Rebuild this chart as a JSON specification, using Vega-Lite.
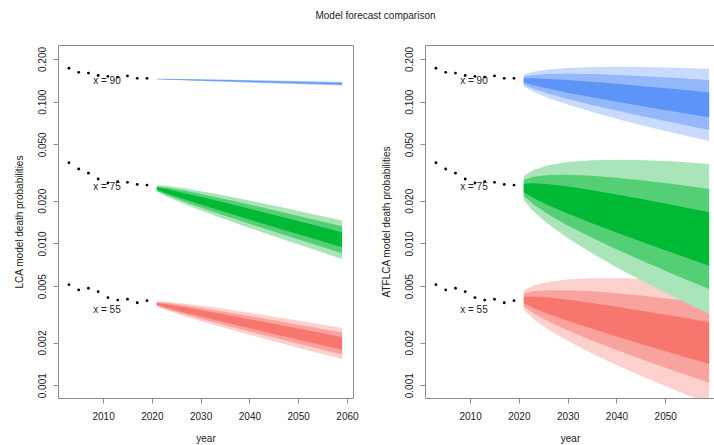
{
  "$schema": "https://vega.github.io/schema/vega-lite/v6.json",
  "padding": {"left": 13, "top": 10, "right": 0, "bottom": 0},
  "title": {"text": "Model forecast comparison", "fontSize": 10, "fontWeight": "normal", "color": "#222", "anchor": "middle", "offset": 24, "dx": 11, "font": "Liberation Sans"},
  "datasets": {
    "lca": [
      {"year": 2021, "age": 90, "lo95": 0.1438, "lo80": 0.1441, "lo50": 0.1443, "hi50": 0.1448, "hi80": 0.1450, "hi95": 0.1453},
      {"year": 2023, "age": 90, "lo95": 0.1427, "lo80": 0.1432, "lo50": 0.1436, "hi50": 0.1444, "hi80": 0.1448, "hi95": 0.1453},
      {"year": 2027, "age": 90, "lo95": 0.1409, "lo80": 0.1416, "lo50": 0.1422, "hi50": 0.1435, "hi80": 0.1441, "hi95": 0.1448},
      {"year": 2033, "age": 90, "lo95": 0.1385, "lo80": 0.1394, "lo50": 0.1403, "hi50": 0.1420, "hi80": 0.1428, "hi95": 0.1438},
      {"year": 2040, "age": 90, "lo95": 0.1360, "lo80": 0.1371, "lo50": 0.1381, "hi50": 0.1402, "hi80": 0.1412, "hi95": 0.1424},
      {"year": 2049, "age": 90, "lo95": 0.1328, "lo80": 0.1342, "lo50": 0.1354, "hi50": 0.1379, "hi80": 0.1391, "hi95": 0.1405},
      {"year": 2059, "age": 90, "lo95": 0.1297, "lo80": 0.1312, "lo50": 0.1325, "hi50": 0.1353, "hi80": 0.1367, "hi95": 0.1383},
      {"year": 2021, "age": 75, "lo95": 0.02323, "lo80": 0.02358, "lo50": 0.02395, "hi50": 0.02490, "hi80": 0.02529, "hi95": 0.02567},
      {"year": 2023, "age": 75, "lo95": 0.02145, "lo80": 0.02200, "lo50": 0.02259, "hi50": 0.02418, "hi80": 0.02483, "hi95": 0.02548},
      {"year": 2027, "age": 75, "lo95": 0.01877, "lo80": 0.01951, "lo50": 0.02033, "hi50": 0.02254, "hi80": 0.02349, "hi95": 0.02443},
      {"year": 2033, "age": 75, "lo95": 0.01569, "lo80": 0.01654, "lo50": 0.01749, "hi50": 0.02014, "hi80": 0.02130, "hi95": 0.02246},
      {"year": 2040, "age": 75, "lo95": 0.01288, "lo80": 0.01376, "lo50": 0.01475, "hi50": 0.01756, "hi80": 0.01882, "hi95": 0.02011},
      {"year": 2049, "age": 75, "lo95": 0.01011, "lo80": 0.01095, "lo50": 0.01190, "hi50": 0.01469, "hi80": 0.01596, "hi95": 0.01728},
      {"year": 2059, "age": 75, "lo95": 0.00778, "lo80": 0.00853, "lo50": 0.00940, "hi50": 0.01200, "hi80": 0.01321, "hi95": 0.01449},
      {"year": 2021, "age": 55, "lo95": 0.003596, "lo80": 0.003638, "lo50": 0.003681, "hi50": 0.003805, "hi80": 0.003851, "hi95": 0.003896},
      {"year": 2023, "age": 55, "lo95": 0.003376, "lo80": 0.003445, "lo50": 0.003516, "hi50": 0.003724, "hi80": 0.003800, "hi95": 0.003879},
      {"year": 2027, "age": 55, "lo95": 0.003041, "lo80": 0.003138, "lo50": 0.003237, "hi50": 0.003535, "hi80": 0.003646, "hi95": 0.003762},
      {"year": 2033, "age": 55, "lo95": 0.002645, "lo80": 0.002760, "lo50": 0.002880, "hi50": 0.003246, "hi80": 0.003387, "hi95": 0.003534},
      {"year": 2040, "age": 55, "lo95": 0.002269, "lo80": 0.002392, "lo50": 0.002522, "hi50": 0.002925, "hi80": 0.003083, "hi95": 0.003250},
      {"year": 2049, "age": 55, "lo95": 0.001879, "lo80": 0.002003, "lo50": 0.002134, "hi50": 0.002551, "hi80": 0.002719, "hi95": 0.002897},
      {"year": 2059, "age": 55, "lo95": 0.001534, "lo80": 0.001651, "lo50": 0.001777, "hi50": 0.002186, "hi80": 0.002353, "hi95": 0.002533}
    ],
    "atf": [
      {"year": 2021, "age": 90, "lo95": 0.1283, "lo80": 0.1321, "lo50": 0.1364, "hi50": 0.1456, "hi80": 0.1504, "hi95": 0.1548},
      {"year": 2023, "age": 90, "lo95": 0.1173, "lo80": 0.1233, "lo50": 0.1305, "hi50": 0.1460, "hi80": 0.1544, "hi95": 0.1624},
      {"year": 2026, "age": 90, "lo95": 0.1063, "lo80": 0.1142, "lo50": 0.1236, "hi50": 0.1448, "hi80": 0.1568, "hi95": 0.1684},
      {"year": 2030, "age": 90, "lo95": 0.0954, "lo80": 0.1045, "lo50": 0.1158, "hi50": 0.1422, "hi80": 0.1575, "hi95": 0.1727},
      {"year": 2035, "age": 90, "lo95": 0.0846, "lo80": 0.0947, "lo50": 0.1074, "hi50": 0.1381, "hi80": 0.1566, "hi95": 0.1753},
      {"year": 2040, "age": 90, "lo95": 0.0759, "lo80": 0.0865, "lo50": 0.1000, "hi50": 0.1337, "hi80": 0.1545, "hi95": 0.1760},
      {"year": 2046, "age": 90, "lo95": 0.0672, "lo80": 0.0780, "lo50": 0.0920, "hi50": 0.1281, "hi80": 0.1511, "hi95": 0.1754},
      {"year": 2052, "age": 90, "lo95": 0.0600, "lo80": 0.0707, "lo50": 0.0849, "hi50": 0.1226, "hi80": 0.1473, "hi95": 0.1737},
      {"year": 2059, "age": 90, "lo95": 0.0527, "lo80": 0.0632, "lo50": 0.0775, "hi50": 0.1161, "hi80": 0.1422, "hi95": 0.1706},
      {"year": 2021, "age": 75, "lo95": 0.02026, "lo80": 0.02162, "lo50": 0.02297, "hi50": 0.02639, "hi80": 0.02804, "hi95": 0.02991},
      {"year": 2023, "age": 75, "lo95": 0.01682, "lo80": 0.01882, "lo50": 0.02091, "hi50": 0.02658, "hi80": 0.02953, "hi95": 0.03303},
      {"year": 2026, "age": 75, "lo95": 0.01370, "lo80": 0.01605, "lo50": 0.01863, "hi50": 0.02617, "hi80": 0.03037, "hi95": 0.03560},
      {"year": 2030, "age": 75, "lo95": 0.01092, "lo80": 0.01341, "lo50": 0.01626, "hi50": 0.02519, "hi80": 0.03053, "hi95": 0.03748},
      {"year": 2035, "age": 75, "lo95": 0.008528, "lo80": 0.01096, "lo50": 0.01387, "hi50": 0.02374, "hi80": 0.03004, "hi95": 0.03862},
      {"year": 2040, "age": 75, "lo95": 0.006801, "lo80": 0.009094, "lo50": 0.01193, "hi50": 0.02218, "hi80": 0.02911, "hi95": 0.03892},
      {"year": 2046, "age": 75, "lo95": 0.005284, "lo80": 0.007357, "lo50": 0.01003, "hi50": 0.02033, "hi80": 0.02771, "hi95": 0.03858},
      {"year": 2052, "age": 75, "lo95": 0.004155, "lo80": 0.005999, "lo50": 0.008465, "hi50": 0.01854, "hi80": 0.02617, "hi95": 0.03778},
      {"year": 2059, "age": 75, "lo95": 0.003181, "lo80": 0.004771, "lo50": 0.006976, "hi50": 0.01658, "hi80": 0.02425, "hi95": 0.03636},
      {"year": 2021, "age": 55, "lo95": 0.003413, "lo80": 0.003604, "lo50": 0.003783, "hi50": 0.004216, "hi80": 0.004426, "hi95": 0.004674},
      {"year": 2023, "age": 55, "lo95": 0.002931, "lo80": 0.003222, "lo50": 0.003505, "hi50": 0.004228, "hi80": 0.004599, "hi95": 0.005054},
      {"year": 2026, "age": 55, "lo95": 0.002477, "lo80": 0.002831, "lo50": 0.003190, "hi50": 0.004158, "hi80": 0.004685, "hi95": 0.005354},
      {"year": 2030, "age": 55, "lo95": 0.002056, "lo80": 0.002443, "lo50": 0.002850, "hi50": 0.004014, "hi80": 0.004682, "hi95": 0.005563},
      {"year": 2035, "age": 55, "lo95": 0.001676, "lo80": 0.002070, "lo50": 0.002500, "hi50": 0.003803, "hi80": 0.004593, "hi95": 0.005673},
      {"year": 2040, "age": 55, "lo95": 0.001391, "lo80": 0.001775, "lo50": 0.002207, "hi50": 0.003583, "hi80": 0.004455, "hi95": 0.005685},
      {"year": 2046, "age": 55, "lo95": 0.001128, "lo80": 0.001490, "lo50": 0.001909, "hi50": 0.003318, "hi80": 0.004252, "hi95": 0.005614},
      {"year": 2052, "age": 55, "lo95": 0.000925, "lo80": 0.001259, "lo50": 0.001658, "hi50": 0.003062, "hi80": 0.004033, "hi95": 0.005492},
      {"year": 2059, "age": 55, "lo95": 0.000741, "lo80": 0.001042, "lo50": 0.001411, "hi50": 0.002778, "hi80": 0.003764, "hi95": 0.005292}
    ],
    "obs": [
      {"year": 2003, "age": 90, "value": 0.172}, {"year": 2005, "age": 90, "value": 0.161}, {"year": 2007, "age": 90, "value": 0.159},
      {"year": 2009, "age": 90, "value": 0.153}, {"year": 2011, "age": 90, "value": 0.151}, {"year": 2013, "age": 90, "value": 0.149},
      {"year": 2015, "age": 90, "value": 0.152}, {"year": 2017, "age": 90, "value": 0.146}, {"year": 2019, "age": 90, "value": 0.146},
      {"year": 2003, "age": 75, "value": 0.0371}, {"year": 2005, "age": 75, "value": 0.0335}, {"year": 2007, "age": 75, "value": 0.0313},
      {"year": 2009, "age": 75, "value": 0.0285}, {"year": 2011, "age": 75, "value": 0.0267}, {"year": 2013, "age": 75, "value": 0.0273},
      {"year": 2015, "age": 75, "value": 0.0270}, {"year": 2017, "age": 75, "value": 0.0261}, {"year": 2019, "age": 75, "value": 0.0258},
      {"year": 2003, "age": 55, "value": 0.00512}, {"year": 2005, "age": 55, "value": 0.00470}, {"year": 2007, "age": 55, "value": 0.00483},
      {"year": 2009, "age": 55, "value": 0.00457}, {"year": 2011, "age": 55, "value": 0.00415}, {"year": 2013, "age": 55, "value": 0.00399},
      {"year": 2015, "age": 55, "value": 0.00404}, {"year": 2017, "age": 55, "value": 0.00382}, {"year": 2019, "age": 55, "value": 0.00395}
    ],
    "lab": [
      {"year": 2010.8, "value": 0.1406, "label": "x = 90"},
      {"year": 2010.8, "value": 0.0249, "label": "x = 75"},
      {"year": 2010.8, "value": 0.0034, "label": "x = 55"}
    ]
  },
  "config": {
    "font": "Liberation Sans",
    "view": {"stroke": "#8c8c8c", "strokeWidth": 1},
    "axis": {"grid": false, "domain": false, "tickColor": "#8c8c8c", "tickSize": 5, "labelFontSize": 10, "labelColor": "#222", "titleFontSize": 10, "titleColor": "#222", "titleFontWeight": "normal", "labelFont": "Liberation Sans", "titleFont": "Liberation Sans"},
    "axisX": {"labelPadding": 8, "titlePadding": 12},
    "axisY": {"labelAngle": 270, "labelAlign": "center", "labelBaseline": "bottom", "labelPadding": 6, "titlePadding": 13}
  },
  "bounds": "flush",
  "spacing": 72,
  "hconcat": [
    {
      "width": 295, "height": 353,
      "encoding": {"x": {"field": "year", "type": "quantitative", "scale": {"domain": [2000.76, 2061.24], "nice": false, "zero": false}, "axis": {"title": "year", "values": [2010, 2020, 2030, 2040, 2050, 2060], "format": "d"}}},
      "layer": [
        {"data": {"name": "lca"}, "transform": [{"filter": "datum.age == 55"}], "mark": {"type": "area", "color": "#FBD0CD", "clip": true}, "encoding": {"y": {"field": "lo95", "type": "quantitative", "scale": {"type": "log", "domain": [0.000813, 0.251], "nice": false}, "axis": {"title": "LCA model death probabilities", "values": [0.001, 0.002, 0.005, 0.01, 0.02, 0.05, 0.1, 0.2], "format": ".3f"}}, "y2": {"field": "hi95"}}},
        {"data": {"name": "lca"}, "transform": [{"filter": "datum.age == 55"}], "mark": {"type": "area", "color": "#F8A39E", "clip": true}, "encoding": {"y": {"field": "lo80", "type": "quantitative", "scale": {"type": "log", "domain": [0.000813, 0.251], "nice": false}, "axis": {"title": "LCA model death probabilities", "values": [0.001, 0.002, 0.005, 0.01, 0.02, 0.05, 0.1, 0.2], "format": ".3f"}}, "y2": {"field": "hi80"}}},
        {"data": {"name": "lca"}, "transform": [{"filter": "datum.age == 55"}], "mark": {"type": "area", "color": "#F7766E", "clip": true}, "encoding": {"y": {"field": "lo50", "type": "quantitative", "scale": {"type": "log", "domain": [0.000813, 0.251], "nice": false}, "axis": {"title": "LCA model death probabilities", "values": [0.001, 0.002, 0.005, 0.01, 0.02, 0.05, 0.1, 0.2], "format": ".3f"}}, "y2": {"field": "hi50"}}},
        {"data": {"name": "lca"}, "transform": [{"filter": "datum.age == 75"}], "mark": {"type": "area", "color": "#A9E5B9", "clip": true}, "encoding": {"y": {"field": "lo95", "type": "quantitative", "scale": {"type": "log", "domain": [0.000813, 0.251], "nice": false}, "axis": {"title": "LCA model death probabilities", "values": [0.001, 0.002, 0.005, 0.01, 0.02, 0.05, 0.1, 0.2], "format": ".3f"}}, "y2": {"field": "hi95"}}},
        {"data": {"name": "lca"}, "transform": [{"filter": "datum.age == 75"}], "mark": {"type": "area", "color": "#55CF75", "clip": true}, "encoding": {"y": {"field": "lo80", "type": "quantitative", "scale": {"type": "log", "domain": [0.000813, 0.251], "nice": false}, "axis": {"title": "LCA model death probabilities", "values": [0.001, 0.002, 0.005, 0.01, 0.02, 0.05, 0.1, 0.2], "format": ".3f"}}, "y2": {"field": "hi80"}}},
        {"data": {"name": "lca"}, "transform": [{"filter": "datum.age == 75"}], "mark": {"type": "area", "color": "#00B934", "clip": true}, "encoding": {"y": {"field": "lo50", "type": "quantitative", "scale": {"type": "log", "domain": [0.000813, 0.251], "nice": false}, "axis": {"title": "LCA model death probabilities", "values": [0.001, 0.002, 0.005, 0.01, 0.02, 0.05, 0.1, 0.2], "format": ".3f"}}, "y2": {"field": "hi50"}}},
        {"data": {"name": "lca"}, "transform": [{"filter": "datum.age == 90"}], "mark": {"type": "area", "color": "#C9DBFC", "clip": true}, "encoding": {"y": {"field": "lo95", "type": "quantitative", "scale": {"type": "log", "domain": [0.000813, 0.251], "nice": false}, "axis": {"title": "LCA model death probabilities", "values": [0.001, 0.002, 0.005, 0.01, 0.02, 0.05, 0.1, 0.2], "format": ".3f"}}, "y2": {"field": "hi95"}}},
        {"data": {"name": "lca"}, "transform": [{"filter": "datum.age == 90"}], "mark": {"type": "area", "color": "#94B8FA", "clip": true}, "encoding": {"y": {"field": "lo80", "type": "quantitative", "scale": {"type": "log", "domain": [0.000813, 0.251], "nice": false}, "axis": {"title": "LCA model death probabilities", "values": [0.001, 0.002, 0.005, 0.01, 0.02, 0.05, 0.1, 0.2], "format": ".3f"}}, "y2": {"field": "hi80"}}},
        {"data": {"name": "lca"}, "transform": [{"filter": "datum.age == 90"}], "mark": {"type": "area", "color": "#5C95F7", "clip": true}, "encoding": {"y": {"field": "lo50", "type": "quantitative", "scale": {"type": "log", "domain": [0.000813, 0.251], "nice": false}, "axis": {"title": "LCA model death probabilities", "values": [0.001, 0.002, 0.005, 0.01, 0.02, 0.05, 0.1, 0.2], "format": ".3f"}}, "y2": {"field": "hi50"}}},
        {"data": {"name": "obs"}, "mark": {"type": "circle", "size": 8, "color": "#000", "opacity": 1}, "encoding": {"y": {"field": "value", "type": "quantitative", "scale": {"type": "log", "domain": [0.000813, 0.251], "nice": false}, "axis": {"title": "LCA model death probabilities", "values": [0.001, 0.002, 0.005, 0.01, 0.02, 0.05, 0.1, 0.2], "format": ".3f"}}}},
        {"data": {"name": "lab"}, "mark": {"type": "text", "fontSize": 10, "color": "#222", "font": "Liberation Sans"}, "encoding": {"y": {"field": "value", "type": "quantitative", "scale": {"type": "log", "domain": [0.000813, 0.251], "nice": false}, "axis": {"title": "LCA model death probabilities", "values": [0.001, 0.002, 0.005, 0.01, 0.02, 0.05, 0.1, 0.2], "format": ".3f"}}, "text": {"field": "label"}}}
      ]
    },
    {
      "width": 290, "height": 353,
      "encoding": {"x": {"field": "year", "type": "quantitative", "scale": {"domain": [2000.76, 2060.2], "nice": false, "zero": false}, "axis": {"title": "year", "values": [2010, 2020, 2030, 2040, 2050], "format": "d"}}},
      "layer": [
        {"data": {"name": "atf"}, "transform": [{"filter": "datum.age == 55"}], "mark": {"type": "area", "color": "#FBD0CD", "clip": true}, "encoding": {"y": {"field": "lo95", "type": "quantitative", "scale": {"type": "log", "domain": [0.000813, 0.251], "nice": false}, "axis": {"title": "ATFLCA model death probabilities", "values": [0.001, 0.002, 0.005, 0.01, 0.02, 0.05, 0.1, 0.2], "format": ".3f"}}, "y2": {"field": "hi95"}}},
        {"data": {"name": "atf"}, "transform": [{"filter": "datum.age == 55"}], "mark": {"type": "area", "color": "#F8A39E", "clip": true}, "encoding": {"y": {"field": "lo80", "type": "quantitative", "scale": {"type": "log", "domain": [0.000813, 0.251], "nice": false}, "axis": {"title": "ATFLCA model death probabilities", "values": [0.001, 0.002, 0.005, 0.01, 0.02, 0.05, 0.1, 0.2], "format": ".3f"}}, "y2": {"field": "hi80"}}},
        {"data": {"name": "atf"}, "transform": [{"filter": "datum.age == 55"}], "mark": {"type": "area", "color": "#F7766E", "clip": true}, "encoding": {"y": {"field": "lo50", "type": "quantitative", "scale": {"type": "log", "domain": [0.000813, 0.251], "nice": false}, "axis": {"title": "ATFLCA model death probabilities", "values": [0.001, 0.002, 0.005, 0.01, 0.02, 0.05, 0.1, 0.2], "format": ".3f"}}, "y2": {"field": "hi50"}}},
        {"data": {"name": "atf"}, "transform": [{"filter": "datum.age == 75"}], "mark": {"type": "area", "color": "#A9E5B9", "clip": true}, "encoding": {"y": {"field": "lo95", "type": "quantitative", "scale": {"type": "log", "domain": [0.000813, 0.251], "nice": false}, "axis": {"title": "ATFLCA model death probabilities", "values": [0.001, 0.002, 0.005, 0.01, 0.02, 0.05, 0.1, 0.2], "format": ".3f"}}, "y2": {"field": "hi95"}}},
        {"data": {"name": "atf"}, "transform": [{"filter": "datum.age == 75"}], "mark": {"type": "area", "color": "#55CF75", "clip": true}, "encoding": {"y": {"field": "lo80", "type": "quantitative", "scale": {"type": "log", "domain": [0.000813, 0.251], "nice": false}, "axis": {"title": "ATFLCA model death probabilities", "values": [0.001, 0.002, 0.005, 0.01, 0.02, 0.05, 0.1, 0.2], "format": ".3f"}}, "y2": {"field": "hi80"}}},
        {"data": {"name": "atf"}, "transform": [{"filter": "datum.age == 75"}], "mark": {"type": "area", "color": "#00B934", "clip": true}, "encoding": {"y": {"field": "lo50", "type": "quantitative", "scale": {"type": "log", "domain": [0.000813, 0.251], "nice": false}, "axis": {"title": "ATFLCA model death probabilities", "values": [0.001, 0.002, 0.005, 0.01, 0.02, 0.05, 0.1, 0.2], "format": ".3f"}}, "y2": {"field": "hi50"}}},
        {"data": {"name": "atf"}, "transform": [{"filter": "datum.age == 90"}], "mark": {"type": "area", "color": "#C9DBFC", "clip": true}, "encoding": {"y": {"field": "lo95", "type": "quantitative", "scale": {"type": "log", "domain": [0.000813, 0.251], "nice": false}, "axis": {"title": "ATFLCA model death probabilities", "values": [0.001, 0.002, 0.005, 0.01, 0.02, 0.05, 0.1, 0.2], "format": ".3f"}}, "y2": {"field": "hi95"}}},
        {"data": {"name": "atf"}, "transform": [{"filter": "datum.age == 90"}], "mark": {"type": "area", "color": "#94B8FA", "clip": true}, "encoding": {"y": {"field": "lo80", "type": "quantitative", "scale": {"type": "log", "domain": [0.000813, 0.251], "nice": false}, "axis": {"title": "ATFLCA model death probabilities", "values": [0.001, 0.002, 0.005, 0.01, 0.02, 0.05, 0.1, 0.2], "format": ".3f"}}, "y2": {"field": "hi80"}}},
        {"data": {"name": "atf"}, "transform": [{"filter": "datum.age == 90"}], "mark": {"type": "area", "color": "#5C95F7", "clip": true}, "encoding": {"y": {"field": "lo50", "type": "quantitative", "scale": {"type": "log", "domain": [0.000813, 0.251], "nice": false}, "axis": {"title": "ATFLCA model death probabilities", "values": [0.001, 0.002, 0.005, 0.01, 0.02, 0.05, 0.1, 0.2], "format": ".3f"}}, "y2": {"field": "hi50"}}},
        {"data": {"name": "obs"}, "mark": {"type": "circle", "size": 8, "color": "#000", "opacity": 1}, "encoding": {"y": {"field": "value", "type": "quantitative", "scale": {"type": "log", "domain": [0.000813, 0.251], "nice": false}, "axis": {"title": "ATFLCA model death probabilities", "values": [0.001, 0.002, 0.005, 0.01, 0.02, 0.05, 0.1, 0.2], "format": ".3f"}}}},
        {"data": {"name": "lab"}, "mark": {"type": "text", "fontSize": 10, "color": "#222", "font": "Liberation Sans"}, "encoding": {"y": {"field": "value", "type": "quantitative", "scale": {"type": "log", "domain": [0.000813, 0.251], "nice": false}, "axis": {"title": "ATFLCA model death probabilities", "values": [0.001, 0.002, 0.005, 0.01, 0.02, 0.05, 0.1, 0.2], "format": ".3f"}}, "text": {"field": "label"}}}
      ]
    }
  ]
}
